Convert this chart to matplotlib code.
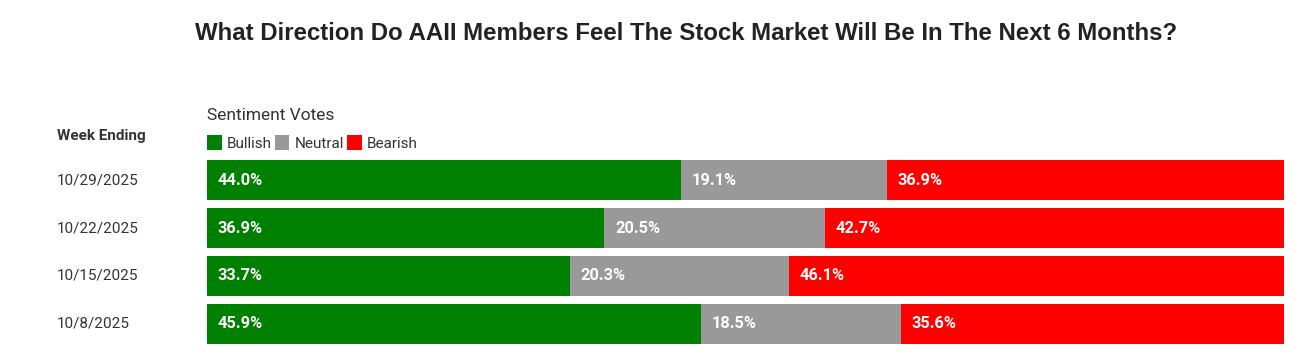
import matplotlib.pyplot as plt
from matplotlib.transforms import blended_transform_factory

weeks = ["10/29/2025", "10/22/2025", "10/15/2025", "10/8/2025"]
bullish = [44.0, 36.9, 33.7, 45.9]
neutral = [19.1, 20.5, 20.3, 18.5]
bearish = [36.9, 42.7, 46.1, 35.6]
series = [("Bullish", bullish, "#008000"),
          ("Neutral", neutral, "#999999"),
          ("Bearish", bearish, "#ff0000")]

plt.rcParams['font.family'] = ['Roboto', 'DejaVu Sans']

W, H = 1311, 352
fig = plt.figure(figsize=(W / 100, H / 100), dpi=100)
ax = fig.add_axes([207 / W, 1 - 348 / H, 1077 / W, 192 / H])

ypos = list(range(len(weeks)))
left = [0.0] * len(weeks)
handles = []
for name, vals, color in series:
    bars = ax.barh(ypos, vals, left=left, height=40 / 48, color=color, label=name)
    handles.append(bars)
    for y, v, l in zip(ypos, vals, left):
        ax.text(l + 1.0, y, f"{v:.1f}%", color="white", fontweight="bold",
                fontsize=11.8, va="center", ha="left")
    left = [a + b for a, b in zip(left, vals)]

ax.set_xlim(0, 100)
ax.set_ylim(len(weeks) - 0.5, -0.5)
ax.axis("off")

# week labels to the left of the bars
trans = blended_transform_factory(fig.transFigure, ax.transData)
for y, w in zip(ypos, weeks):
    ax.text(57 / W, y, w, transform=trans, fontsize=11, color="#333333",
            va="center", ha="left")

fig.text(686 / W, 1 - 33 / H, "What Direction Do AAII Members Feel The Stock Market Will Be In The Next 6 Months?",
         ha="center", va="center", fontsize=17.3, fontweight="bold", color="#222222",
         family=["Liberation Sans", "DejaVu Sans"])
fig.text(57 / W, 1 - 136 / H, "Week Ending", ha="left", va="center", fontsize=11,
         fontweight="bold", color="#333333")
fig.text(207 / W, 1 - 116 / H, "Sentiment Votes", ha="left", va="center", fontsize=12.5,
         color="#333333")

leg = fig.legend(handles=handles, loc="center left", bbox_to_anchor=(207 / W, 1 - 143 / H),
                 ncol=3, frameon=False, handlelength=0.95, handleheight=1.1,
                 handletextpad=0.35, columnspacing=0.2, fontsize=11, borderaxespad=0,
                 borderpad=0)
for t in leg.get_texts():
    t.set_color("#333333")

fig.savefig("out.png", dpi=100)
